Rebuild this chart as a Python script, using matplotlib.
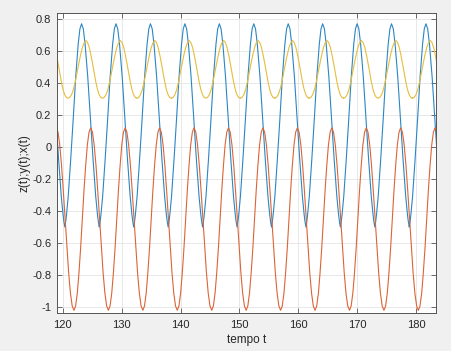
import numpy as np
import matplotlib
matplotlib.use('Agg')
import matplotlib.pyplot as plt

# peak times (one per cycle) for each signal
blue_peaks = [117.33, 123.18, 129.03, 134.88, 140.73, 146.58, 152.43,
              158.28, 164.13, 169.98, 175.83, 181.67]
red_peaks = [118.88, 124.73, 130.58, 136.43, 142.28, 148.13, 153.98,
             159.83, 165.68, 171.53, 177.38, 183.22]
yellow_peaks = [118.08, 123.93, 129.78, 135.63, 141.48, 147.33, 153.18,
                159.03, 164.88, 170.73, 176.58, 182.42]

# shape of one cycle: offset from the peak -> value
blue_dt = [-2.84, -2.70, -2.56, -2.27, -1.85, -1.42, -0.99, -0.57, -0.28, 0.0,
           0.30, 0.60, 1.05, 1.51, 1.96, 2.41, 2.71, 2.86, 3.01]
blue_v = [-0.50, -0.468, -0.424, -0.31, -0.081, 0.173, 0.44, 0.643, 0.738, 0.77,
          0.738, 0.643, 0.44, 0.173, -0.081, -0.31, -0.424, -0.468, -0.50]

red_dt = [-2.84, -2.56, -2.27, -1.99, -1.70, -1.42, -1.14, -0.85, -0.57, -0.28, 0.0,
          0.30, 0.60, 0.90, 1.20, 1.51, 1.81, 2.11, 2.41, 2.71, 3.01]
red_v = [-1.02, -0.993, -0.912, -0.785, -0.627, -0.45, -0.273, -0.115, 0.012, 0.093, 0.12,
         0.093, 0.012, -0.115, -0.273, -0.45, -0.627, -0.785, -0.912, -0.993, -1.02]

yellow_dt = [-3.05, -2.75, -2.44, -2.14, -1.83, -1.53, -1.22, -0.92, -0.61, -0.31, 0.0,
             0.28, 0.56, 0.84, 1.12, 1.40, 1.68, 1.96, 2.24, 2.52, 2.80]
yellow_v = [0.305, 0.310, 0.327, 0.359, 0.406, 0.463, 0.521, 0.575, 0.622, 0.652, 0.665,
            0.652, 0.622, 0.575, 0.521, 0.463, 0.406, 0.359, 0.327, 0.310, 0.305]

xticks = [120, 130, 140, 150, 160, 170, 180]
yticks = [-1, -0.8, -0.6, -0.4, -0.2, 0, 0.2, 0.4, 0.6, 0.8]


def build(peaks, dt, v):
    t_all, v_all = [], []
    for p in peaks:
        t_all += [p + d for d in dt]
        v_all += v
    return np.array(t_all), np.array(v_all)


plt.rcParams['font.family'] = ['Liberation Sans', 'DejaVu Sans']

fig = plt.figure(figsize=(4.51, 3.51), dpi=100, facecolor='#f0f0f0')
ax = fig.add_axes([0.126, 0.108, 0.841, 0.855])

for peaks, dt, v, c in [(blue_peaks, blue_dt, blue_v, '#2a86c4'),
                        (red_peaks, red_dt, red_v, '#dc6436'),
                        (yellow_peaks, yellow_dt, yellow_v, '#e6bd3c')]:
    t, y = build(peaks, dt, v)
    ax.plot(t, y, color=c, lw=0.8)

ax.set_xlim(118.98, 183.4)
ax.set_ylim(-1.0375, 0.8375)
ax.set_xticks(xticks)
ax.set_yticks(yticks)
ax.set_yticklabels(['-1', '-0.8', '-0.6', '-0.4', '-0.2', '0', '0.2', '0.4', '0.6', '0.8'])
ax.grid(True, color='#e4e4e4', lw=0.6)
ax.set_axisbelow(True)
ax.tick_params(direction='in', length=3.5, width=0.6, colors='#555555',
               labelcolor='#262626', labelsize=8, top=True, right=True)
ax.tick_params(axis='x', pad=5)
ax.tick_params(axis='y', pad=4)
for s in ax.spines.values():
    s.set_color('#555555')
    s.set_linewidth(0.7)
ax.set_xlabel('tempo t', fontsize=8.5, color='#262626', labelpad=3)
ax.set_ylabel('z(t);y(t);x(t)', fontsize=8.5, color='#262626', labelpad=1)

fig.savefig('out.png', dpi=100, facecolor=fig.get_facecolor())
